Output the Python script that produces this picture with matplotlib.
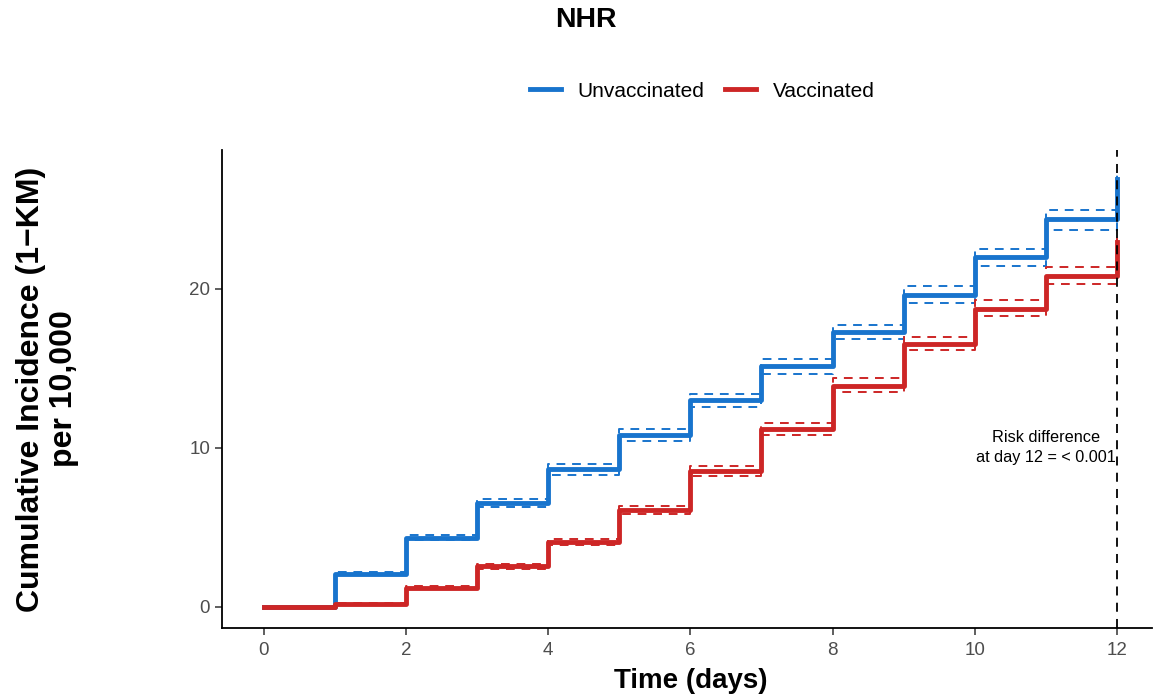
import matplotlib.pyplot as plt

plt.rcParams['font.family'] = ['Liberation Sans', 'DejaVu Sans']

# KM cumulative incidence per 10,000, value after each daily step
days = [0, 1, 2, 3, 4, 5, 6, 7, 8, 9, 10, 11, 12]

unvax = [0, 2.1, 4.35, 6.55, 8.65, 10.8, 13.0, 15.15, 17.25, 19.6, 22.0, 24.35, 26.9]
unvax_lo = [0, 2.0, 4.2, 6.3, 8.3, 10.4, 12.55, 14.65, 16.8, 19.1, 21.4, 23.7, 26.2]
unvax_hi = [0, 2.2, 4.5, 6.8, 9.0, 11.2, 13.35, 15.6, 17.7, 20.15, 22.5, 24.9, 27.5]

vax = [0, 0.2, 1.2, 2.55, 4.1, 6.1, 8.55, 11.15, 13.9, 16.5, 18.7, 20.8, 22.9]
vax_lo = [0, 0.15, 1.1, 2.4, 3.9, 5.85, 8.2, 10.8, 13.5, 16.15, 18.25, 20.3, 22.3]
vax_hi = [0, 0.25, 1.3, 2.7, 4.3, 6.35, 8.85, 11.55, 14.35, 16.95, 19.25, 21.35, 23.4]

x_ticks = [0, 2, 4, 6, 8, 10, 12]
y_ticks = [0, 10, 20]

blue = '#1874CD'
red = '#CD2626'

fig = plt.figure(figsize=(11.57, 6.96), dpi=100)
ax = fig.add_axes([0.1919, 0.0977, 0.8041, 0.6868])

groups = [('Unvaccinated', unvax, unvax_lo, unvax_hi, blue),
          ('Vaccinated', vax, vax_lo, vax_hi, red)]
for name, est, lo, hi, col in groups:
    ax.step(days, est, where='post', color=col, lw=3.5, label=name, zorder=3)
    for band in (lo, hi):
        ax.step(days, band, where='post', color=col, lw=1.4,
                dashes=(4.5, 3.5), zorder=2)

ax.axvline(12, color='black', lw=1.3, dashes=(5, 4), zorder=4)
ax.text(11, 10, 'Risk difference\nat day 12 = < 0.001', ha='center', va='center',
        fontsize=11.7, linespacing=1.45)

ax.set_xlim(-0.59, 12.5)
ax.set_ylim(-1.32, 28.7)
ax.set_xticks(x_ticks)
ax.set_yticks(y_ticks)
ax.tick_params(labelsize=13.5, labelcolor='#4D4D4D', length=5, width=1.1,
               color='#333333')
ax.tick_params(axis='x', pad=5)
for side in ('top', 'right'):
    ax.spines[side].set_visible(False)
for side in ('left', 'bottom'):
    ax.spines[side].set_linewidth(1.3)

ax.set_xlabel('Time (days)', fontsize=20, fontweight='bold', va='center')
ax.xaxis.set_label_coords(0.504, -0.111)
ax.set_ylabel('Cumulative Incidence (1\u2212KM)\nper 10,000', fontsize=23,
              fontweight='bold', va='center', linespacing=1.12)
ax.yaxis.set_label_coords(-0.188, 0.5)

fig.suptitle('NHR', fontsize=20.5, fontweight='bold', x=0.506, y=0.971,
             va='center')
fig.legend(loc='center', bbox_to_anchor=(0.607, 0.869), ncol=2, frameon=False,
           fontsize=15, handlelength=1.5, columnspacing=1.0, handletextpad=0.8)

fig.savefig('out.png', dpi=100)
